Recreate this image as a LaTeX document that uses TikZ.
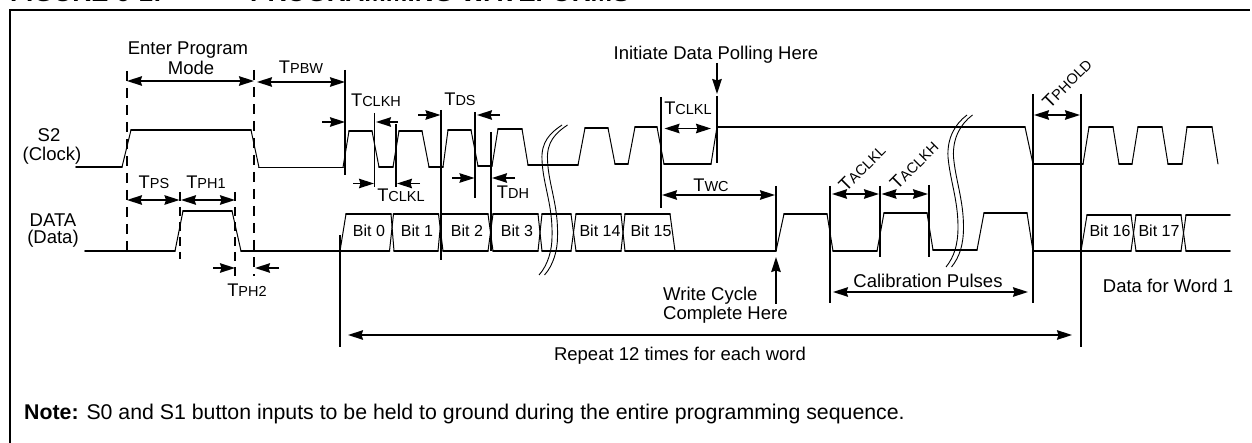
\documentclass[tikz,border=0pt]{standalone}
\usepackage{fontspec}
\setmainfont{Liberation Sans}
\usetikzlibrary{arrows.meta}
\newcommand{\tsub}[2]{{\fontsize{18.3}{18.3}\selectfont #1\fontsize{14.5}{14.5}\selectfont #2}}
\def\wvnone{N}
\newcommand{\wv}[1]{%
  \foreach \px/\py [remember=\px as \qx (initially N), remember=\py as \qy (initially N)] in {#1} {%
    \ifx\qx\wvnone\else
      \ifdim\py pt=\qy pt
        \draw[wave flat] (\qx,\qy) -- (\px,\py);
      \else
        \draw[wave slope] (\qx,\qy) -- (\px,\py);
      \fi
    \fi
  }%
}
\tikzset{
  wave flat/.style={line width=1.7pt,line cap=round},
  wave slope/.style={line width=1.0pt,line cap=round},
  vbar/.style={line width=1.7pt},
  dbar/.style={line width=1.7pt,dash pattern=on 10pt off 7pt},
  dim/.style={line width=1.7pt,{Stealth[length=15pt,width=9.5pt,inset=1.5pt]}-{Stealth[length=15pt,width=9.5pt,inset=1.5pt]}},
  pin/.style={line width=1.7pt,-{Stealth[length=15pt,width=9.5pt,inset=1.5pt]}},
  lab/.style={font=\fontsize{18.5}{18.5}\selectfont,inner sep=0pt,anchor=center},
  bitlab/.style={font=\fontsize{16}{16}\selectfont,inner sep=0pt,anchor=center},
  brk/.style={line width=0.9pt},
}
\begin{document}
\begin{tikzpicture}[x=1pt,y=-1pt]
\useasboundingbox (0,0) rectangle (1252,443);
% frame and title
\draw[line width=2.5pt] (10,443) -- (10,10) -- (1250,10);
\node[inner sep=0pt,anchor=base west,font=\bfseries\fontsize{26}{26}\selectfont] (fig) at (10,2) {FIGURE 6-1:};
\node[inner sep=0pt,anchor=base west,font=\bfseries\fontsize{26}{26}\selectfont] (ttl) at (250,2) {PROGRAMMING WAVEFORMS};
% S2 waveform
\wv{76/167,122/167,131/130,251/130,259/167.5,343/167.5,349/131,372/131,379/167,393/167,399/131,422/131,429/167,443/167,448/130,471/130,478/166,492/166,498/129,522/129,528/165,578/165,585/128,608/128,615/164,628/164,635/127,657/127,664/164,711/164,717/127,1025/127,1033/164,1083/164,1089/127,1113/127,1119/164,1132/164,1138/127,1162/127,1168/164,1182/164,1187/127,1212/127,1218/164}
% DATA waveform
\wv{85/251,175/251,183/211,232/211,241/251,340/251,346/214,391/214,394/251,438/251,441.5/214,443/214}
\wv{340/251,389.5/251,393.5/214,438.5/214,443/251,488/251,493/214,538/214,542/251,571/251,576/214,621/214,625/251,675/251}
\wv{443/214,488/214,493/251,538/251,542/214,571/214,576/251,621/251,625/214,670/214,675/251,776/251,784/214,827/214,833/251,877/251,884/213,927/213,933/250,977/250,984/213,1027/213,1033/251,1081/251,1087/215,1131/215,1136/251,1181/251,1186/215,1230/215}
\wv{1081/251,1131/251,1136/215,1181/215,1186/251,1230/251}
% breaks
\foreach \d in {0,5.5}{
  \draw[brk] (562+\d,125) .. controls (550+\d,133) and (541+\d,142) .. (542+\d,160)
    .. controls (543+\d,185) and (553+\d,205) .. (552+\d,237)
    .. controls (552+\d,250) and (548+\d,265) .. (539+\d,275);
  \draw[brk] (967+\d,115) .. controls (955+\d,124) and (947+\d,138) .. (948+\d,157)
    .. controls (950+\d,180) and (958+\d,200) .. (958+\d,227)
    .. controls (958+\d,245) and (954+\d,257) .. (946+\d,267);
}
% dashed verticals
\draw[dbar] (127,71) -- (127,257);
\draw[dbar] (254,70) -- (254,276);
\draw[dbar,dash pattern=on 9pt off 6pt] (180,192) -- (180,259);
\draw[dbar,dash pattern=on 9pt off 6pt] (235,192) -- (235,276);
% solid verticals
\draw[vbar] (345,70) -- (345,175);
\draw[vbar] (374.5,113) -- (374.5,187);
\draw[vbar] (396,124) -- (396,187);
\draw[vbar] (441,110) -- (441,260);
\draw[vbar] (475,112) -- (475,198);
\draw[vbar] (491,132) -- (491,251);
\draw[vbar] (340,235) -- (340,347);
\draw[vbar] (661,97) -- (661,208);
\draw[vbar] (717,96) -- (717,163);
\draw[vbar] (776,186) -- (776,251);
\draw[vbar] (830,186) -- (830,303);
\draw[vbar] (880,186) -- (880,257);
\draw[vbar] (929,185) -- (929,257);
\draw[vbar] (1033,94) -- (1033,303);
\draw[vbar] (1081,94) -- (1081,347);
% dimension arrows
\draw[dim] (127,81) -- (254,81);
\draw[dim] (257,82) -- (345,82);
\draw[pin] (322,122) -- (345,122);
\draw[pin] (398,122) -- (376,122);
\draw[pin] (353,183.5) -- (374,183.5);
\draw[pin] (420,183.5) -- (397,183.5);
\draw[pin] (418,115) -- (440.5,115);
\draw[pin] (500,115) -- (477,115);
\draw[pin] (452,178) -- (474.5,178);
\draw[pin] (515,178) -- (492,178);
\draw[dim] (664.5,128.5) -- (711,128.5);
\draw[pin] (717,63) -- (717,94);
\draw[dim] (662,195) -- (775,195);
\draw[dim] (832,194) -- (879,194);
\draw[dim] (881.5,194) -- (928,194);
\draw[dim] (833,292) -- (1028,292);
\draw[dim] (1034,115) -- (1080,115);
\draw[dim] (348,335) -- (1072,335);
\draw[dim] (127,200) -- (179.5,200);
\draw[dim] (181,200) -- (235,200);
\draw[pin] (213,268) -- (235,268);
\draw[pin] (279,268) -- (255,268);
\draw[pin] (776,304) -- (776,257);
% labels
\node[lab] (enter) at (188,50) {Enter Program};
\node[lab] (mode) at (191,68) {Mode};
\node[lab] (tpbw) at (301,67) {\tsub{T}{PBW}};
\node[lab] (s2) at (49,135) {S2};
\node[lab] (clock) at (52,156) {(Clock)};
\node[lab] (data) at (53,220) {DATA};
\node[lab] (datap) at (53,239) {(Data)};
\node[lab] (tps) at (154,182) {\tsub{T}{PS}};
\node[lab] (tph1) at (206,182) {\tsub{T}{PH1}};
\node[lab] (tph2) at (247,290) {\tsub{T}{PH2}};
\node[lab] (tclkh) at (376,100) {\tsub{T}{CLKH}};
\node[lab] (tclkl) at (401,195) {\tsub{T}{CLKL}};
\node[lab] (tds) at (460,99) {\tsub{T}{DS}};
\node[lab] (tdh) at (513,192) {\tsub{T}{DH}};
\node[lab] (tclkl2) at (688,108) {\tsub{T}{CLKL}};
\node[lab] (twc) at (711,185) {\tsub{T}{WC}};
\node[lab] (poll) at (716,55) {Initiate Data Polling Here};
\node[lab,anchor=west] (wr) at (663,296) {Write Cycle};
\node[lab,anchor=west] (cmp) at (663,315) {Complete Here};
\node[lab] (cal) at (928,281) {Calibration Pulses};
\node[lab] (word) at (1168,286) {Data for Word 1};
\node[lab] (rep) at (680,356) {Repeat 12 times for each word};
\node[lab,rotate=45] (tack) at (862,168) {\tsub{T}{ACLKL}};
\node[lab,rotate=45] (tackh) at (914,165) {\tsub{T}{ACLKH}};
\node[lab,rotate=45] (tphold) at (1067,83) {\tsub{T}{PHOLD}};
\node[bitlab] (b0) at (369,231) {Bit 0};
\node[bitlab] (b1) at (417,231) {Bit 1};
\node[bitlab] (b2) at (467,231) {Bit 2};
\node[bitlab] (b3) at (517,231) {Bit 3};
\node[bitlab] (b14) at (600,231) {Bit 14};
\node[bitlab] (b15) at (651,231) {Bit 15};
\node[bitlab] (b16) at (1110,231) {Bit 16};
\node[bitlab] (b17) at (1159,231) {Bit 17};
\node[inner sep=0pt,anchor=west,font=\fontsize{21.3}{21.3}\selectfont] (note) at (24,414) {\textbf{Note:} S0 and S1 button inputs to be held to ground during the entire programming sequence.};
\end{tikzpicture}
\end{document}
